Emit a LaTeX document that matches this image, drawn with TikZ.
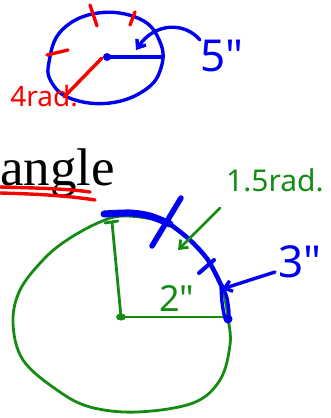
\documentclass[tikz,border=0pt]{standalone}
\usepackage{fontspec}
\setmainfont{Liberation Serif}
\newfontfamily\handfont{Noto Sans}
\usetikzlibrary{arrows.meta}
\definecolor{inkblue}{RGB}{0,0,240}
\definecolor{inkred}{RGB}{250,0,0}
\definecolor{inkgreen}{RGB}{20,140,20}
\begin{document}
\begin{tikzpicture}[x=1pt, y=-1pt, line join=round, line cap=round, >={Straight Barb[length=7pt,width=11pt]},
	pen/.style={line width=3.4pt},
	thinpen/.style={line width=2.8pt},
	hand/.style={font=\handfont\fontsize{#1}{#1}\selectfont, inner sep=0pt}]
	\useasboundingbox (0,0) rectangle (330,418);
	\draw[pen, inkblue] plot[smooth cycle, tension=0.7] coordinates {(49,62) (62,30) (98,13) (140,19) (160,42) (161,68) (145,90) (110,103) (72,99) (52,83)};
	\fill[inkblue] (107,57) circle (4);
	\draw[pen, inkblue] (107,57) -- (162,57);
	\draw[pen, inkred] (102,58) -- (64,97);
	\foreach \a/\b in {{(90,5)}/{(97,26)}, {(135,12)}/{(130,25)}, {(47,55)}/{(68,50)}} \draw[pen, inkred] \a -- \b;
	\node[hand=28, inkred] (radfour) at (44,96) {4rad.};
	\node[hand=44, inkblue] (five) at (222,56) {5"};
	\coordinate (fivefrom) at (200,40);
	\coordinate (fiveto) at (136,50);
	\draw[pen, inkblue, ->] (fivefrom) .. controls (185,22) and (155,22) .. (fiveto);
	\node[font=\fontsize{53}{53}\selectfont, inner sep=0pt, anchor=base west] (word) at (0,185) {angle};
	\draw[pen, inkred] (0,187) .. controls (40,188) and (70,189) .. (90,192);
	\draw[pen, inkred] (0,193) .. controls (40,194) and (70,196) .. (95,200);
	\draw[thinpen, inkgreen] plot[smooth cycle, tension=0.6] coordinates {(228,318) (230,345) (220,380) (193,403) (137,412) (90,407) (57,390) (23,360) (13,323) (20,290) (43,260) (67,240) (100,222) (125,216) (162,222) (190,240) (210,263) (222,287)};
	\fill[inkgreen] (121,317) ellipse (5 and 3.5);
	\draw[thinpen, inkgreen] (121,317) -- (112,222) (105,223) -- (118,221);
	\draw[thinpen, inkgreen] (121,317) -- (226,317);
	\draw[line width=7pt, inkblue] plot[smooth] coordinates {(104,214) (130,213) (150,216) (170,224)};
	\draw[line width=4.5pt, inkblue] plot[smooth] coordinates {(170,224) (190,240) (208,260) (221,285)};
	\draw[pen, inkblue] plot[smooth] coordinates {(221,285) (222,302) (225,318) (229,316) (227,298) (222,285)};
	\draw[line width=5.5pt, inkblue] (181,198) -- (152,246);
	\draw[line width=4pt, inkblue] (199,273) -- (214,260);
	\fill[inkblue] (228,319) circle (4.5);
	\node[hand=30, inkgreen, anchor=north west] (onefive) at (226,168) {1.5rad.};
	\coordinate (onefivefrom) at (220,208);
	\coordinate (onefiveto) at (178,250);
	\draw[thinpen, inkgreen, ->] (onefivefrom) -- (onefiveto);
	\node[hand=36, inkgreen] (two) at (177,298) {2"};
	\node[hand=44, inkblue] (three) at (300,262) {3"};
	\coordinate (threefrom) at (275,272);
	\coordinate (threeto) at (222,289);
	\draw[pen, inkblue, ->] (threefrom) -- (threeto);
\end{tikzpicture}
\end{document}
